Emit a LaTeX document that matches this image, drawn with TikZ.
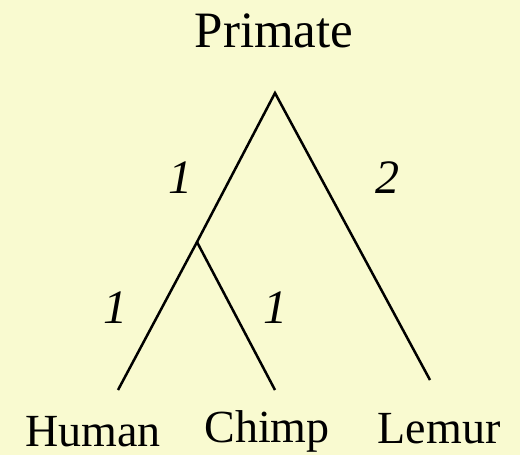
\documentclass[tikz,border=0pt]{standalone}
\usepackage{fontspec}
\setmainfont{Liberation Serif}
\definecolor{bgyellow}{RGB}{249,250,208}
\begin{document}
\begin{tikzpicture}[x=1pt,y=-1pt,
  branch/.style={line width=2.5pt, line cap=butt},
  taxon/.style={anchor=base, inner sep=0pt, font=\fontsize{46}{46}\selectfont},
  rootlab/.style={anchor=base, inner sep=0pt, font=\fontsize{51}{51}\selectfont},
  weight/.style={anchor=base, inner sep=0pt, font=\fontsize{48}{48}\selectfont\itshape}]
\fill[bgyellow] (0,0) rectangle (520,455);
\useasboundingbox (0,0) rectangle (520,455);
\coordinate (root) at (275,93);
\coordinate (inner) at (197,242);
\coordinate (human) at (118,390);
\coordinate (chimp) at (275,390);
\coordinate (lemur) at (430,380);
\draw[branch] (human) -- (inner) -- (root) -- (lemur);
\draw[branch] (inner) -- (chimp);
\node[rootlab] (lroot) at (274,47) {Primate};
\node[taxon] (lhuman) at (93,446) {Human};
\node[taxon] (lchimp) at (267,442) {Chimp};
\node[taxon] (llemur) at (439,443) {Lemur};
\node[weight] (w1) at (180,193) {1};
\node[weight] (w2) at (387,193) {2};
\node[weight] (w3) at (115,323) {1};
\node[weight] (w4) at (275,323) {1};
\end{tikzpicture}
\end{document}
